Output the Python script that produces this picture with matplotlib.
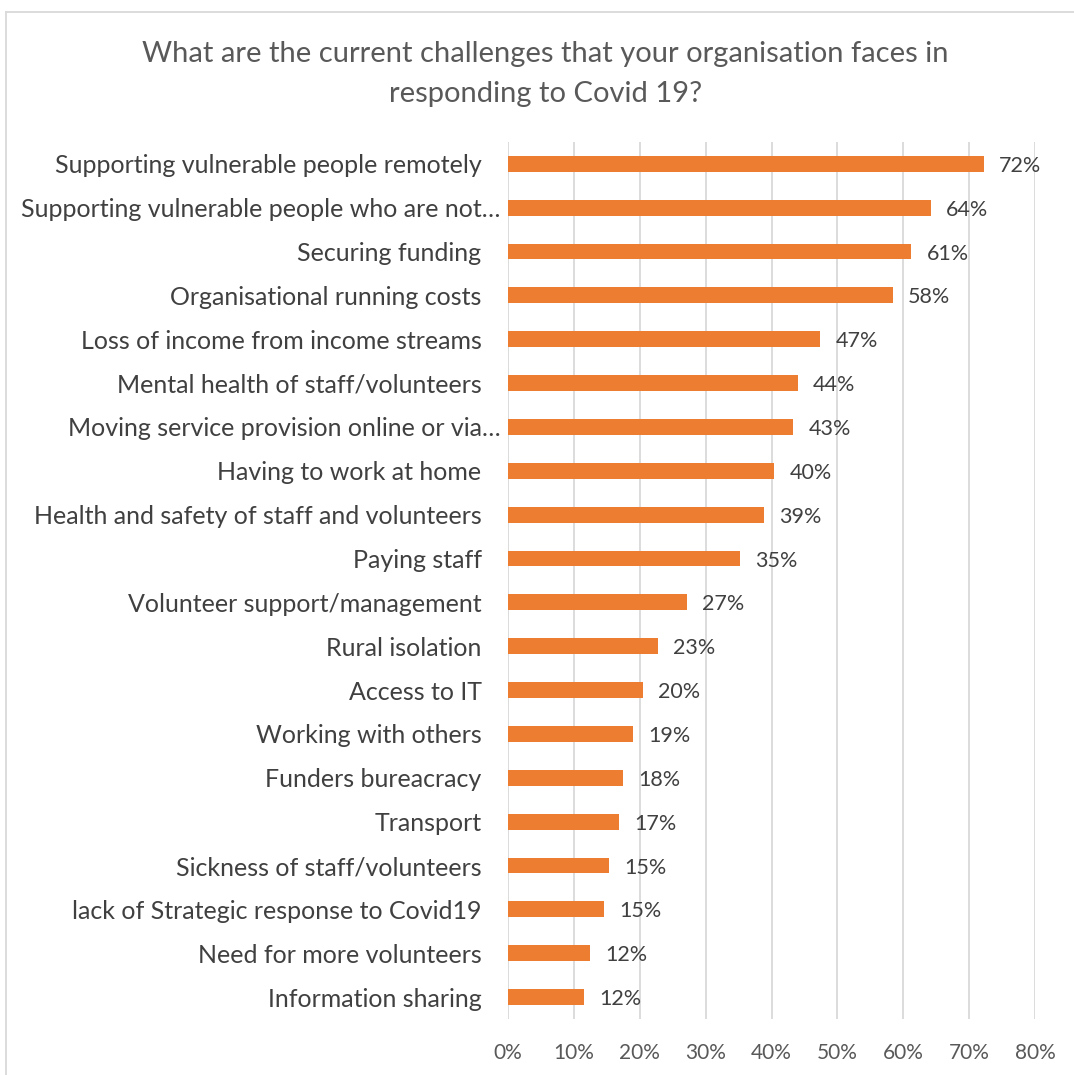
import matplotlib.pyplot as plt
from matplotlib.lines import Line2D
from matplotlib.ticker import FuncFormatter
from matplotlib.transforms import ScaledTranslation

challenges = [
    "Supporting vulnerable people remotely",
    "Supporting vulnerable people who are not\u2026",
    "Securing funding",
    "Organisational running costs",
    "Loss of income from income streams",
    "Mental health of staff/volunteers",
    "Moving service provision online or via\u2026",
    "Having to work at home",
    "Health and safety of staff and volunteers",
    "Paying staff",
    "Volunteer support/management",
    "Rural isolation",
    "Access to IT",
    "Working with others",
    "Funders bureacracy",
    "Transport",
    "Sickness of staff/volunteers",
    "lack of Strategic response to Covid19",
    "Need for more volunteers",
    "Information sharing",
]
share = [72.2, 64.2, 61.2, 58.4, 47.4, 44.0, 43.3, 40.4, 38.9, 35.2,
         27.1, 22.7, 20.5, 19.0, 17.5, 16.8, 15.3, 14.6, 12.4, 11.6]
xticks = [0, 10, 20, 30, 40, 50, 60, 70, 80]

plt.rcParams['font.family'] = ['Lato', 'DejaVu Sans']
grey = '#595959'
orange = '#ED7D31'

fig = plt.figure(figsize=(10.74, 10.75), dpi=100)
ax = fig.add_axes([0.473, 0.0521, 0.4907, 0.8159])

y = list(range(len(challenges)))
ax.barh(y, share, height=0.36, color=orange, zorder=3)
for yi, v in zip(y, share):
    ax.annotate(f"{v:.0f}%", (v, yi), xytext=(11, 0), textcoords='offset points',
                va='center_baseline', ha='left', fontsize=15.5, color='#404040')

ax.set_xlim(0, 80)
ax.set_ylim(len(challenges) - 0.5, -0.5)
ax.set_yticks(y)
ax.set_yticklabels(challenges, fontsize=18, color='#404040')
ax.set_xticks(xticks)
ax.xaxis.set_major_formatter(FuncFormatter(lambda v, p: f"{v:.0f}%"))
ax.tick_params(axis='x', labelsize=15, labelcolor=grey, length=0, pad=17)
ax.tick_params(axis='y', length=0, pad=19)
ax.grid(axis='x', color='#D9D9D9', linewidth=1.3, zorder=0)
for s in ax.spines.values():
    s.set_visible(False)

# truncated category names sit a little further right
for lbl in ax.get_yticklabels():
    if lbl.get_text().endswith("\u2026"):
        lbl.set_transform(lbl.get_transform() + ScaledTranslation(0.19, 0, fig.dpi_scale_trans))

fig.suptitle("What are the current challenges that your organisation faces in\nresponding to Covid 19?",
             x=0.508, y=0.962, fontsize=21, color=grey, linespacing=1.65)

# chart frame
fig.add_artist(Line2D([5.5 / 1074, 5.5 / 1074], [0, 1 - 11.5 / 1075],
                      transform=fig.transFigure, color='#D9D9D9', linewidth=1.3))
fig.add_artist(Line2D([5.5 / 1074, 1], [1 - 11.5 / 1075, 1 - 11.5 / 1075],
                      transform=fig.transFigure, color='#D9D9D9', linewidth=1.3))

plt.savefig('out.png', dpi=100)
